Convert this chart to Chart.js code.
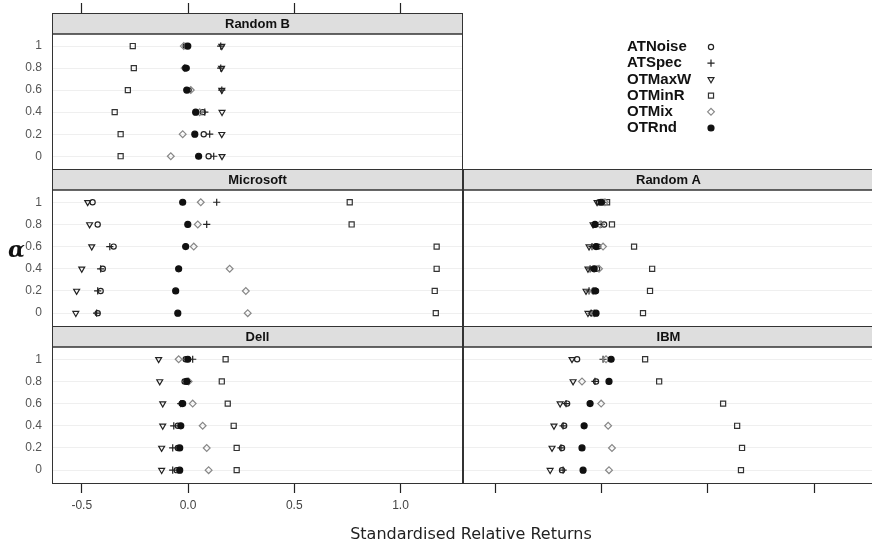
<!DOCTYPE html>
<html>
<head>
<meta charset="utf-8">
<script src="https://cdn.jsdelivr.net/npm/chart.js@4.4.0/dist/chart.umd.min.js"></script>
<style>
  html, body { margin: 0; padding: 0; background: #fff; }
  #wrap { position: relative; width: 872px; height: 548px; overflow: hidden; background: #fff; }
  #wrap canvas { position: absolute; left: 0; top: 0; }
  #xtitle { position: absolute; left: 0; width: 942px; top: 524px; text-align: center;
            font: 16px "DejaVu Sans", sans-serif; color: #222; }
  #alpha { position: absolute; left: 8px; top: 236px; font: italic bold 22px "DejaVu Serif", serif; color: #111; }
</style>
</head>
<body>
<div id="wrap">
  <canvas id="cRandomB" width="880" height="548"></canvas>
  <canvas id="cMicrosoft" width="880" height="548"></canvas>
  <canvas id="cDell" width="880" height="548"></canvas>
  <canvas id="cRandomA" width="880" height="548"></canvas>
  <canvas id="cIBM" width="880" height="548"></canvas>
  <div id="alpha">α</div>
  <div id="xtitle">Standardised Relative Returns</div>
</div>
<script>
// ---- data ----
const alphas = [0, 0.2, 0.4, 0.6, 0.8, 1];
const seriesNames = ['ATNoise', 'ATSpec', 'OTMaxW', 'OTMinR', 'OTMix', 'OTRnd'];
const xTicks = [-0.5, 0, 0.5, 1];

// one row per series (order of seriesNames), one value per alpha
const randomB = [
  [0.097, 0.074, 0.069, 0.003, -0.006, -0.011],
  [0.121, 0.102, 0.079, 0.159, 0.154, 0.154],
  [0.160, 0.159, 0.160, 0.159, 0.158, 0.159],
  [-0.317, -0.317, -0.345, -0.283, -0.255, -0.260],
  [-0.081, -0.025, 0.055, 0.013, -0.016, -0.020],
  [0.050, 0.032, 0.036, -0.006, -0.011, -0.001],
];
const microsoft = [
  [-0.425, -0.411, -0.401, -0.350, -0.425, -0.449],
  [-0.430, -0.425, -0.411, -0.368, 0.088, 0.135],
  [-0.528, -0.524, -0.500, -0.453, -0.463, -0.472],
  [1.166, 1.161, 1.170, 1.170, 0.770, 0.761],
  [0.281, 0.272, 0.196, 0.027, 0.046, 0.060],
  [-0.048, -0.058, -0.044, -0.011, -0.001, -0.025],
];
const dell = [
  [-0.053, -0.048, -0.048, -0.030, -0.016, -0.011],
  [-0.072, -0.072, -0.067, -0.034, -0.001, 0.022],
  [-0.124, -0.124, -0.119, -0.119, -0.133, -0.138],
  [0.229, 0.229, 0.215, 0.187, 0.159, 0.177],
  [0.097, 0.088, 0.069, 0.022, 0.003, -0.044],
  [-0.039, -0.039, -0.034, -0.025, -0.006, -0.001],
];
const randomA = [
  [-0.045, -0.026, -0.021, -0.016, 0.012, -0.012],
  [-0.049, -0.059, -0.054, -0.045, -0.002, 0.007],
  [-0.064, -0.073, -0.064, -0.059, -0.040, -0.021],
  [0.195, 0.228, 0.238, 0.153, 0.049, 0.026],
  [-0.035, -0.040, -0.012, 0.007, -0.007, 0.016],
  [-0.026, -0.031, -0.035, -0.026, -0.031, -0.002],
];
const ibm = [
  [-0.186, -0.186, -0.176, -0.162, -0.026, -0.115],
  [-0.181, -0.191, -0.181, -0.167, -0.031, 0.007],
  [-0.242, -0.233, -0.224, -0.195, -0.134, -0.139],
  [0.656, 0.661, 0.638, 0.572, 0.271, 0.205],
  [0.035, 0.049, 0.031, -0.002, -0.092, 0.021],
  [-0.087, -0.092, -0.082, -0.054, 0.035, 0.045],
];

// ---- styles ----
const markers = [
  { style: 'circle',   radius: 2.6, rotation: 0,   bg: 'rgba(0,0,0,0)', border: '#222' },
  { style: 'cross',    radius: 3.6, rotation: 0,   bg: 'rgba(0,0,0,0)', border: '#222' },
  { style: 'triangle', radius: 3.4, rotation: 180, bg: 'rgba(0,0,0,0)', border: '#222' },
  { style: 'rect',     radius: 3.6, rotation: 0,   bg: 'rgba(0,0,0,0)', border: '#333' },
  { style: 'rectRot',  radius: 3.4, rotation: 0,   bg: 'rgba(0,0,0,0)', border: '#888' },
  { style: 'circle',   radius: 3.0, rotation: 0,   bg: '#111',          border: '#111' },
];
const SANS = '"Liberation Sans", Arial, sans-serif';

// strip + frame of every panel
const panelFrame = {
  id: 'panelFrame',
  beforeDatasetsDraw(chart, args, o) {
    const { ctx, chartArea: a } = chart;
    ctx.save();
    ctx.fillStyle = '#dedede';
    ctx.fillRect(a.left, a.top, a.right - a.left, 21);
    ctx.strokeStyle = '#333';
    ctx.lineWidth = 1;
    ctx.strokeRect(a.left + 0.5, a.top + 0.5, a.right - a.left - 1, a.bottom - a.top - 1);
    ctx.lineWidth = 1.6;
    ctx.beginPath();
    ctx.moveTo(a.left, a.top + 21);
    ctx.lineTo(a.right, a.top + 21);
    ctx.stroke();
    ctx.fillStyle = '#111';
    ctx.font = 'bold 13px ' + SANS;
    ctx.textAlign = 'center';
    ctx.textBaseline = 'middle';
    ctx.fillText(o.title, (a.left + a.right) / 2, a.top + 11);
    ctx.restore();
  }
};

// key in the empty top-right cell
const legendBox = {
  id: 'legendBox',
  afterDraw(chart, args, o) {
    if (!o.show) return;
    const ctx = chart.ctx;
    ctx.save();
    seriesNames.forEach((name, i) => {
      const y = o.y + i * o.step;
      ctx.fillStyle = '#111';
      ctx.font = 'bold 15px ' + SANS;
      ctx.textAlign = 'left';
      ctx.textBaseline = 'middle';
      ctx.fillText(name, o.x, y);
      const m = markers[i];
      ctx.fillStyle = m.bg;
      ctx.strokeStyle = m.border;
      ctx.lineWidth = 1.2;
      Chart.helpers.drawPoint(ctx, { pointStyle: m.style, radius: m.radius, rotation: m.rotation, borderWidth: 1.2 }, o.sx, y);
    });
    ctx.restore();
  }
};

function buildPanel(canvasId, title, vals, cfg) {
  const datasets = seriesNames.map((name, s) => ({
    label: name,
    data: alphas.map((a, i) => ({ x: vals[s][i], y: a })),
    order: seriesNames.length - s,
    pointStyle: markers[s].style,
    pointRadius: markers[s].radius,
    pointRotation: markers[s].rotation,
    pointBackgroundColor: markers[s].bg,
    pointBorderColor: markers[s].border,
    pointBorderWidth: 1.2,
    showLine: false,
  }));

  const xHeight = cfg.xAxis === 'top' ? 13 : cfg.xAxis === 'bottom' ? 64 : 0;

  return new Chart(document.getElementById(canvasId), {
    type: 'scatter',
    data: { datasets },
    options: {
      responsive: false,
      animation: false,
      devicePixelRatio: 1,
      events: [],
      layout: { padding: cfg.pad },
      plugins: {
        legend: { display: false },
        tooltip: { enabled: false },
        panelFrame: { title },
        legendBox: { show: !!cfg.legend, x: 627, y: 47, step: 16.2, sx: 711 },
      },
      scales: {
        x: {
          type: 'linear',
          min: cfg.xmin, max: cfg.xmax,
          display: cfg.xAxis !== 'none',
          position: cfg.xAxis === 'top' ? 'top' : 'bottom',
          afterBuildTicks: s => { s.ticks = xTicks.map(v => ({ value: v })); },
          afterFit: s => { s.height = xHeight; s.paddingLeft = 0; s.paddingRight = 0; },
          grid: { drawOnChartArea: false, drawTicks: true, tickLength: cfg.xAxis === 'top' ? 10 : 9, tickColor: '#222', tickWidth: 1.2 },
          border: { display: false },
          ticks: {
            autoSkip: false, maxRotation: 0, padding: 5,
            color: '#444', font: { family: SANS, size: 12 },
            callback: v => cfg.xLabels ? v.toFixed(1) : '',
          },
        },
        y: {
          type: 'linear',
          min: -0.125, max: 1.3,
          position: 'left',
          afterBuildTicks: s => { s.ticks = alphas.map(v => ({ value: v })); },
          afterFit: s => { s.width = cfg.yLabels ? 52 : 0; s.paddingTop = 0; s.paddingBottom = 0; },
          grid: { drawTicks: false, color: '#efefef', lineWidth: 1 },
          border: { display: false },
          ticks: {
            display: cfg.yLabels, autoSkip: false, padding: 10,
            color: '#555', font: { family: SANS, size: 12 },
            callback: v => String(v),
          },
        },
      },
    },
    plugins: [panelFrame, legendBox],
  });
}

const W = 880, H = 548;
buildPanel('cRandomB', 'Random B', randomB, {
  pad: { left: 0, top: 0, right: W - 463, bottom: H - 170 },
  xmin: -0.64, xmax: 1.294, xAxis: 'top', xLabels: false, yLabels: true, legend: true,
});
buildPanel('cMicrosoft', 'Microsoft', microsoft, {
  pad: { left: 0, top: 169, right: W - 463, bottom: H - 327 },
  xmin: -0.64, xmax: 1.294, xAxis: 'none', xLabels: false, yLabels: true,
});
buildPanel('cDell', 'Dell', dell, {
  pad: { left: 0, top: 326, right: W - 463, bottom: 0 },
  xmin: -0.64, xmax: 1.294, xAxis: 'bottom', xLabels: true, yLabels: true,
});
buildPanel('cRandomA', 'Random A', randomA, {
  pad: { left: 463, top: 169, right: W - 874, bottom: H - 327 },
  xmin: -0.652, xmax: 1.282, xAxis: 'none', xLabels: false, yLabels: false,
});
buildPanel('cIBM', 'IBM', ibm, {
  pad: { left: 463, top: 326, right: W - 874, bottom: 0 },
  xmin: -0.652, xmax: 1.282, xAxis: 'bottom', xLabels: false, yLabels: false,
});
</script>
</body>
</html>
